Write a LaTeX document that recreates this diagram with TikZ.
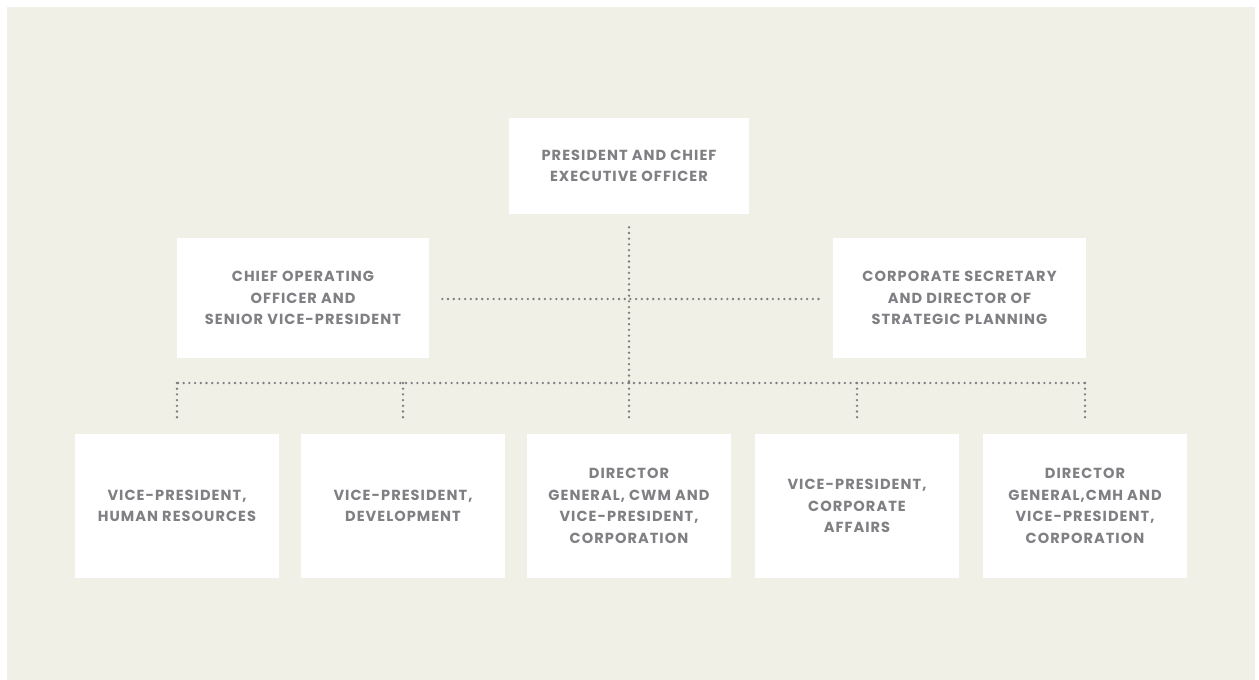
\documentclass[tikz,border=0pt]{standalone}
\usepackage{fontspec}
\setmainfont{Poppins}[LetterSpace=7.0]
\usepackage{tikz}
\definecolor{paper}{RGB}{241,240,230}
\definecolor{labelgray}{RGB}{128,128,132}
\definecolor{dotgray}{RGB}{125,125,130}
\tikzstyle{every path}=[line width=0.6pt]
\tikzstyle{office} = [fill=white, draw=none, align=center, text=labelgray,
    font=\fontsize{14.6}{21.5}\selectfont\bfseries, inner sep=0pt]
\tikzstyle{dotline} = [draw=dotgray, line width=2.6pt, line cap=round,
    dash pattern=on 0pt off 5.7pt]

\begin{document}
\begin{tikzpicture}[x=1pt, y=-1pt]
            \useasboundingbox (0, 0) rectangle (1259, 680);
            \fill[white] (0, 0) rectangle (1259, 680);
            \fill[paper] (7, 7) rectangle (1255, 680);

            % top of the chart
            \node[office, minimum width=240, minimum height=96] (ceo) at (629, 166)
                {PRESIDENT AND CHIEF\\EXECUTIVE OFFICER};
            \node[office, minimum width=252, minimum height=120] (coo) at (303, 298)
                {CHIEF OPERATING\\OFFICER AND\\SENIOR VICE-PRESIDENT};
            \node[office, minimum width=253, minimum height=120] (sec) at (959.5, 298)
                {CORPORATE SECRETARY\\AND DIRECTOR OF\\STRATEGIC PLANNING};

            % bottom row
            \node[office, minimum width=204, minimum height=144] (vphr) at (177, 506)
                {VICE-PRESIDENT,\\HUMAN RESOURCES};
            \node[office, minimum width=204, minimum height=144] (vpdev) at (403, 506)
                {VICE-PRESIDENT,\\DEVELOPMENT};
            \node[office, minimum width=204, minimum height=144] (dgcwm) at (629, 506)
                {DIRECTOR\\GENERAL, CWM AND\\VICE-PRESIDENT,\\CORPORATION};
            \node[office, minimum width=204, minimum height=144] (vpca) at (857, 506)
                {VICE-PRESIDENT,\\CORPORATE\\AFFAIRS};
            \node[office, minimum width=204, minimum height=144] (dgcmh) at (1085, 506)
                {DIRECTOR\\GENERAL,CMH AND\\VICE-PRESIDENT,\\CORPORATION};

            % connectors
            \coordinate (hub) at (629, 383);
            \coordinate (busleft) at (178, 383);
            \coordinate (busright) at (1085, 383);
            \draw[dotline] ([yshift=-13]ceo.south) -- (hub);
            \draw[dotline] ([xshift=13, yshift=-1]coo.east) -- ([xshift=-12, yshift=-1]sec.west);
            \draw[dotline] (busleft) -- (busright);
            \foreach \post in {vphr, vpdev, dgcwm, vpca, dgcmh}
                \draw[dotline] (\post.north |- hub) -- ([yshift=12]\post.north);
\end{tikzpicture}
\end{document}
